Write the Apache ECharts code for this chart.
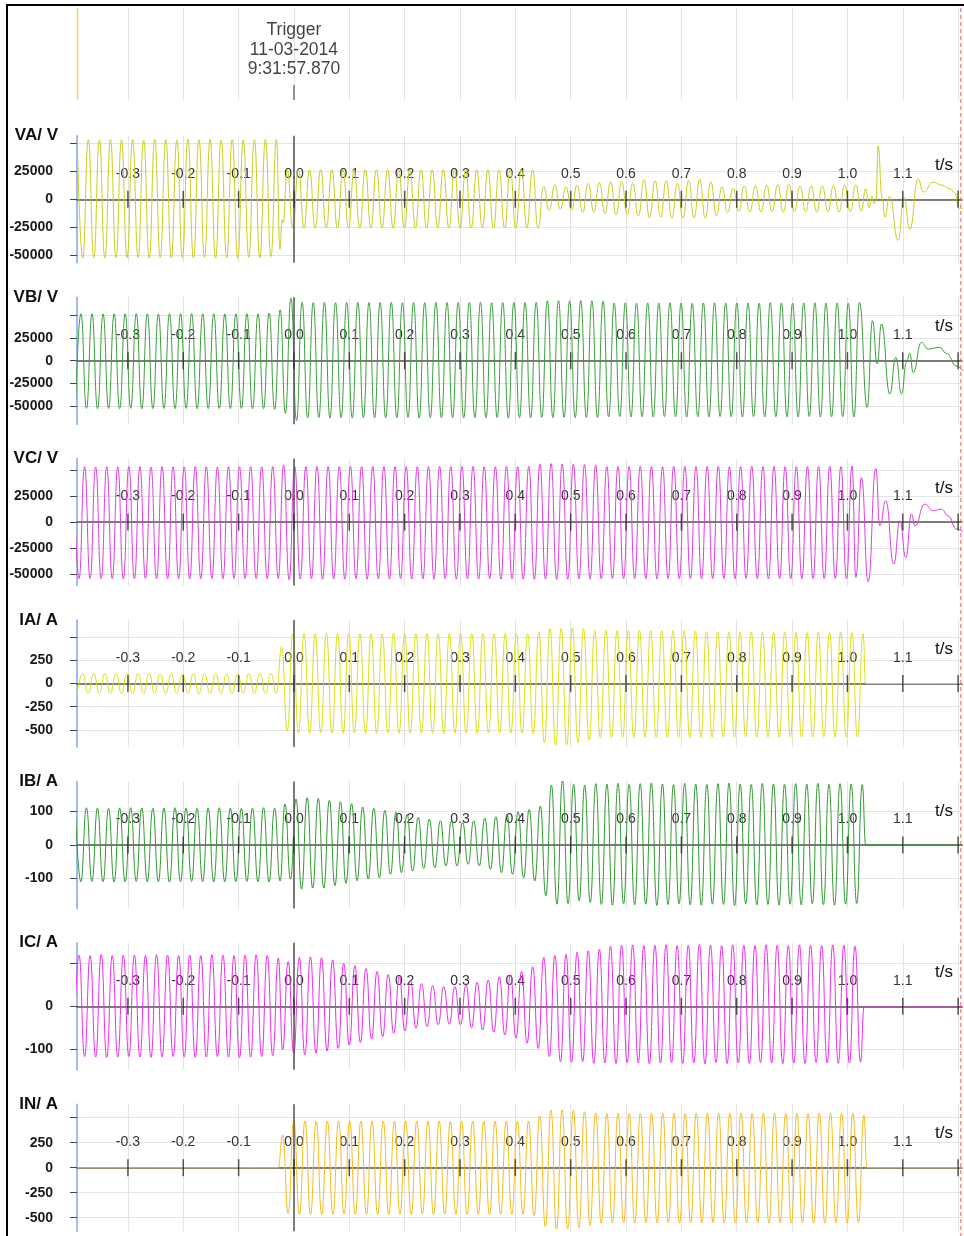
<!DOCTYPE html>
<html>
<head>
<meta charset="utf-8">
<script src="https://cdn.jsdelivr.net/npm/echarts@6/dist/echarts.min.js"></script>
<style>
html,body{margin:0;padding:0;background:#fff;}
#chart{width:964px;height:1236px;}
</style>
</head>
<body>
<div id="chart"></div>
<script>
// ---------------- time axis ----------------
const tMin = -0.392, tMax = 1.207;
const timeTicks = [-0.3,-0.2,-0.1,0.0,0.1,0.2,0.3,0.4,0.5,0.6,0.7,0.8,0.9,1.0,1.1,1.2];
const timeLabels = [-0.3,-0.2,-0.1,0.0,0.1,0.2,0.3,0.4,0.5,0.6,0.7,0.8,0.9,1.0,1.1];
const triggerTime = 0;
const triggerText = ['Trigger', '11-03-2014', '9:31:57.870'];
const cursorTimes = [-0.392, 1.205];

// ---------------- panel axes ----------------
const channelNames = ['VA/ V','VB/ V','VC/ V','IA/ A','IB/ A','IC/ A','IN/ A'];
const yLimits = [57100, 69900, 61060, 684, 189.6, 147.7, 635];
const voltTicks = [-50000,-25000,0,25000,50000];
const voltLabels = [-50000,-25000,0,25000];
const ampTicks500 = [-500,-250,0,250,500];
const ampLabels500 = [-500,-250,0,250];
const ampTicks100 = [-100,0,100];
const ibLabels = [-100,0,100];
const icLabels = [-100,0];

// ---------------- recorded extremes ----------------
// Each wave: pre-fault extremes every half cycle, explicit points, post-fault
// extremes every half cycle, and explicit end points.
const preStep = 0.01;

// VA (kV)
const vaPreStart = -0.3916;
const vaPreKV = [53.6,-52.8,53.8,-52.5,53.4,-52.9,53.9,-52.4,53.5,-52.8,
53.7,-52.6,53.3,-52.9,53.8,-52.3,53.6,-52.8,53.4,-52.6,
53.9,-52.7,53.5,-52.4,53.7,-52.9,53.3,-52.6,53.8,-52.8,
53.5,-52.3,53.6,-52.7,53.8,-51.5,53.9];
const vaMidKV = [[-0.0253,-45.0],[-0.0215,-18.5],[-0.0198,-21.0]];
const vaPostStart = -0.0121, vaPostStep = 0.01007;
const vaPostKV = [
26.5,-25.8,26.7,-25.9,26.6,-25.8,26.7,-25.7,26.6,-25.9,
26.5,-25.8,26.7,-25.9,26.6,-25.8,26.6,-25.7,26.7,-25.9,
26.5,-25.8,26.7,-25.8,26.6,-25.9,26.6,-25.8,26.7,-25.7,
26.5,-25.9,26.6,-25.8,26.7,-25.8,26.6,-25.9,26.5,-25.8,
26.7,-25.9,26.6,-25.8,26.6,-26.0,
11.3,-10.2,12.8,-9.0,11.3,-9.6,12.8,-12.0,14.3,-11.4,
14.9,-13.0,15.8,-14.0,15.8,-14.0,14.3,-15.0,17.3,-16.5,
16.7,-16.0,16.7,-17.0,14.3,-17.0,16.7,-16.5,17.9,-17.0,
15.8,-15.0,11.3,-12.0,9.8,-11.0,11.9,-11.5,12.3,-11.5,
12.8,-11.0,13.0,-11.5,13.4,-11.0,12.0,-11.0,11.9,-11.5,
11.9,-11.0,12.2,-11.5,12.8,-11.0];
const vaTailKV = [[1.0150,12.8],[1.0250,-10.5],[1.0330,9.5],[1.0390,-7.5],[1.0440,2.5],
[1.0480,-4.0],[1.0515,-1.0],[1.0555,48.0],[1.0625,2.0],[1.0676,-16.0],[1.0760,2.7],
[1.0917,-37.0],[1.1020,2.0],[1.1127,-27.0],[1.1278,18.4],[1.1368,6.5],[1.1549,15.4],
[1.1699,12.8],[1.1850,9.5],[1.1940,6.0],[1.2012,-8.0],[1.2090,-9.0]];

// VB (kV)
const vbPreStart = -0.3949;
const vbPreKV = [-52.8,51.7,-52.5,51.9,-52.9,51.5,-52.6,51.8,-52.8,51.6,
-52.4,51.9,-52.9,51.7,-52.7,51.5,-52.6,51.8,-52.8,51.7,
-52.5,51.9,-52.9,51.6,-52.7,51.8,-52.6,51.5,-52.8,51.9,
-52.5,51.7,-52.9,51.6,-52.7,52.5,-53.5,56.0];
const vbPostStart = -0.0155, vbPostStep = 0.01007;
const vbPostKV = [-58.0,69.0,-66.0,64.5,
-63.0,64.0,-62.6,64.3,-63.2,63.8,-62.8,64.1,-63.0,64.2,
-62.7,63.9,-63.1,64.0,-62.9,64.3,-63.0,63.8,-62.6,64.1,
-63.2,64.0,-62.8,64.2,-63.0,63.9,-62.7,64.1,-63.1,64.0,
-62.9,64.3,-63.0,63.8,-62.6,64.0,-63.2,64.2,-62.8,63.9,
-63.0,64.1,
-62.5,66.0,-62.8,66.3,-62.4,65.8,-62.7,66.1,-62.5,65.9,-62.6,65.6,
-61.8,63.5,-61.5,63.7,-62.0,63.3,-61.7,63.6,-61.9,63.4,
-61.6,63.8,-61.8,63.5,-62.1,63.3,-61.7,63.6,-61.9,63.7,
-61.5,63.4,-61.8,63.6,-62.0,63.5,-61.6,63.3,-61.9,63.8,
-61.7,63.5,-61.8,63.4,-62.0,63.6,-61.6,63.7,-61.9,63.5,
-61.8,63.6,-61.7,63.4,-62.0,64.2];
const vbTailKV = [[1.0357,-51.4],[1.0453,44.0],[1.0537,-3.7],[1.0615,40.4],[1.0766,-36.7],
[1.0874,3.7],[1.0977,-36.7],[1.1067,-1.8],[1.1127,8.1],[1.1187,-12.9],[1.1337,20.2],
[1.1457,12.8],[1.1668,14.7],[1.1788,8.1],[1.1969,-5.9],[1.2089,-11.4]];

// VC (kV)
const vcPreStart = -0.3983;
const vcPreKV = [53.2,-54.5,53.4,-54.3,53.0,-54.7,53.3,-54.4,53.1,-54.6,
53.4,-54.5,53.2,-54.3,53.0,-54.6,53.3,-54.5,53.2,-54.4,
53.1,-54.7,53.4,-54.5,53.2,-54.3,53.0,-54.6,53.3,-54.4,
53.2,-54.5,53.4,-54.6,53.1,-54.4,53.3,-54.5];
const vcPostStart = -0.0188, vcPostStep = 0.01007;
const vcPostKV = [55.0,
-55.5,53.6,-54.8,53.4,-54.6,53.7,-54.9,53.5,-54.7,53.3,
-54.8,53.6,-54.5,53.4,-54.9,53.7,-54.7,53.5,-54.8,53.3,
-54.6,53.6,-54.9,53.4,-54.7,53.5,-54.8,53.7,-54.6,53.4,
-54.9,53.5,-54.7,53.6,-54.8,53.3,-54.5,53.5,-54.9,53.6,
-54.7,53.4,-54.8,53.7,
-55.0,55.8,-54.8,56.2,-55.1,56.0,-54.9,55.7,-54.7,55.5,-54.8,54.8,
-54.5,53.5,-54.3,53.7,-54.6,53.4,-54.4,53.6,-54.5,53.5,
-54.7,53.3,-54.4,53.6,-54.5,53.7,-54.3,53.4,-54.6,53.5,
-54.5,53.6,-54.4,53.3,-54.6,53.5,-54.3,53.7,-54.5,53.4,
-54.7,53.6,-54.4,53.5,-54.5,53.3,-54.6,53.6,-54.4,53.5,
-54.5,53.7,-54.3,53.4,-54.5,54.1];
const vcTailKV = [[1.0152,-53.2],[1.0254,42.9],[1.0375,-57.4],[1.0513,51.6],[1.0585,-3.6],
[1.0693,20.5],[1.0838,-40.4],[1.0947,1.3],[1.1055,-34.0],[1.1157,7.7],[1.1218,-3.6],
[1.1398,17.3],[1.1549,10.9],[1.1700,12.5],[1.1820,6.0],[1.1971,-6.8],[1.2092,-9.4]];

// IA (A)
const iaPreStart = -0.3917;
const iaPre = [-108,108,-107,109,-108,108,-109,107,-108,108,
-107,109,-108,108,-108,107,-109,108,-108,108,
-107,109,-108,108,-109,108,-108,107,-108,109,
-107,108,-108,108,-109,108,-108];
const iaPostStart = -0.0222, iaPostStep = 0.0101;
const iaPost = [395,-514,
539,-533,541,-536,538,-534,540,-535,539,-537,
541,-534,538,-535,540,-536,539,-533,541,-535,
538,-536,540,-534,539,-535,541,-537,538,-534,
540,-535,539,-536,541,-533,538,-535,540,-536,
539,-534,541,-540,
560,-640,590,-665,595,-660,600,-640,590,-610,
575,-585,570,-580,572,-578,568,-582,574,-580,
570,-579,566,-581,572,-578,569,-583,565,-580,
560,-578,558,-576,555,-578,552,-575,556,-577,
553,-576,550,-578,554,-575,551,-577,549,-576,
552,-575,550,-578,551,-577,548,-576,539];
const iaTail = [[1.0330,0],[1.2100,0]];

// IB (A)
const ibPreStart = -0.3950;
const ibPre = [110,-110,111,-109,110,-110,109,-111,110,-110,
111,-109,110,-110,109,-110,110,-111,111,-110,
110,-109,109,-110,110,-111,111,-110,110,-110,
109,-109,110,-110,111,-111,110,-108];
const ibPostStart = -0.0163, ibPostStep = 0.01003;
const ibPost = [122,-102,137,-132,141,-129,139,-129,133,-122,
129,-115,123,-107,113,-102,109,-98,103,-88,
98,-83,91,-78,82,-70,77,-68,72,-63,
72,-63,67,-58,72,-63,80,-73,84,-83,
91,-88,99,-98,106,-108,116,-152,179,-177,
193,-175,181,-167,179,-172,183,
-178,182,-180,184,-176,181,-179,183,-177,185,
-181,182,-178,180,-176,184,-179,182,-180,181,
-177,183,-178,185,-181,182,-176,180,-179,184,
-178,182,-180,181,-177,183,-179,182,-176,184,
-178,181,-180,183,-177,182,-175,180];
const ibTail = [[1.0330,0],[1.2100,0]];

// IC (A)
const icPreStart = -0.3983;
const icPre = [-118,119,-117,118,-118,120,-119,118,-118,119,
-117,119,-118,118,-119,120,-118,119,-117,118,
-118,119,-119,118,-118,120,-117,119,-118,118,
-119,119,-118,120,-117,118,-115,112];
const icPostStart = -0.0205, icPostStep = 0.01004;
const icPost = [-101,104,-109,114,-113,115,-109,113,-104,108,
-98,100,-90,95,-84,88,-76,81,-71,74,
-63,69,-57,61,-51,53,-47,48,-43,46,
-42,46,-43,50,-50,56,-55,61,-60,69,
-67,74,-74,81,-86,92,-98,114,-117,118,
-129,121,-130,126,-129,129,-133,133,
-132,140,-133,142,-131,143,-132,141,-134,142,
-132,143,-131,141,-133,142,-132,144,-134,142,
-131,141,-133,143,-132,142,-133,141,-131,143,
-132,142,-134,141,-132,143,-133,142,-131,141,
-132,143,-133,142,-132,140,-130];
const icTail = [[1.0300,-2],[1.2100,-2]];

// IN (A)
const inLead = [[-0.3920,0],[-0.0285,0]];
const inPostStart = -0.0205, inPostStep = 0.0101;
const inPost = [327,-456,
467,-466,468,-465,466,-467,467,-466,468,-464,
466,-467,467,-465,468,-466,466,-467,467,-465,
468,-466,466,-464,467,-467,468,-465,466,-466,
467,-467,468,-465,466,-466,467,-464,468,-467,
466,-465,467,-480,
520,-590,577,-613,580,-610,575,-600,560,-580,
548,-555,545,-553,547,-551,543,-554,546,-552,
544,-553,548,-550,545,-555,543,-552,547,-553,
545,-551,546,-554,544,-552,548,-553,543,-550,
545,-554,547,-552,544,-553,546,-551,543,-554,
547,-553,546,-551,545,-552,544,-550,527];
const inTail = [[1.0350,0],[1.2100,0]];

// ---------------- assemble ----------------
function buildWave(preStart, pre, mid, postStart, postStep, post, tail, unit) {
  const pts = [];
  pre.forEach((v, i) => pts.push([preStart + i * preStep, v * unit]));
  mid.forEach(p => pts.push([p[0], p[1] * unit]));
  post.forEach((v, i) => pts.push([postStart + i * postStep, v * unit]));
  tail.forEach(p => pts.push([p[0], p[1] * unit]));
  return pts;
}

const waves = [
  buildWave(vaPreStart, vaPreKV, vaMidKV, vaPostStart, vaPostStep, vaPostKV, vaTailKV, 1000),
  buildWave(vbPreStart, vbPreKV, [], vbPostStart, vbPostStep, vbPostKV, vbTailKV, 1000),
  buildWave(vcPreStart, vcPreKV, [], vcPostStart, vcPostStep, vcPostKV, vcTailKV, 1000),
  buildWave(iaPreStart, iaPre, [], iaPostStart, iaPostStep, iaPost, iaTail, 1),
  buildWave(ibPreStart, ibPre, [], ibPostStart, ibPostStep, ibPost, ibTail, 1),
  buildWave(icPreStart, icPre, [], icPostStart, icPostStep, icPost, icTail, 1),
  buildWave(0, [], inLead, inPostStart, inPostStep, inPost, inTail, 1)
];
const waveColors = ['#cccc1c','#3a9f3a','#e03ce0','#dede14','#2f9a2f','#ee2aee','#f6bb1c'];
const yTickSets = [voltTicks, voltTicks, voltTicks, ampTicks500, ampTicks100, ampTicks100, ampTicks500];
const yLabelSets = [voltLabels, voltLabels, voltLabels, ampLabels500, ibLabels, icLabels, ampLabels500];

// ---------------- layout ----------------
const FONT = '"Liberation Sans", Arial, sans-serif';
const plotLeft = 77, plotRight = 2;
const panelTop0 = 135.8, panelStep = 161.4, panelH = 127;
const headerTop = 8, headerH = 92;
const GRID_COLOR = '#e3e3e3';

const grids = [], xAxes = [], yAxes = [], series = [];

waves.forEach((data, i) => {
  const top = panelTop0 + i * panelStep;
  grids.push({ left: plotLeft, right: plotRight, top: top, height: panelH });
  xAxes.push({
    gridIndex: i, type: 'value', min: tMin, max: tMax, position: 'top',
    axisLine: { show: true, onZero: true, lineStyle: { color: '#555', width: 1.5 } },
    axisTick: { show: false, customValues: timeTicks },
    axisLabel: {
      inside: true, margin: 31, customValues: timeLabels,
      formatter: v => v.toFixed(1), color: '#333', fontSize: 14, fontFamily: FONT
    },
    splitLine: { show: true, lineStyle: { color: GRID_COLOR, width: 1 } }
  });
  yAxes.push({
    gridIndex: i, type: 'value', min: -yLimits[i], max: yLimits[i],
    axisLine: { show: true, onZero: false, lineStyle: { color: '#7fa6f2', width: 1.5 } },
    axisTick: { show: true, length: 7, customValues: yTickSets[i], lineStyle: { color: '#444', width: 1 } },
    axisLabel: {
      customValues: yLabelSets[i], margin: 24, formatter: v => String(v),
      color: '#1a1a1a', fontSize: 14, fontWeight: 'bold', fontFamily: FONT
    },
    splitLine: { show: true, lineStyle: { color: GRID_COLOR, width: 1 } }
  });
  series.push({
    type: 'line', xAxisIndex: i, yAxisIndex: i, data: data,
    showSymbol: false, symbol: 'none', smooth: 0.5, smoothMonotone: 'x',
    lineStyle: { color: waveColors[i], width: 1 }, silent: true, z: 3,
    markLine: {
      silent: true, symbol: 'none', animation: false,
      label: { show: false },
      lineStyle: { color: '#555', width: 1.5, type: 'solid' },
      data: [{ xAxis: triggerTime }]
    }
  });
  series.push({
    type: 'scatter', xAxisIndex: i, yAxisIndex: i,
    data: timeTicks.map(t => [t, 0]),
    symbol: 'rect', symbolSize: [1.5, 17],
    itemStyle: { color: '#2a2a2a' }, silent: true, z: 5
  });
});

// header strip with the trigger stamp
const hi = waves.length;
grids.push({ left: plotLeft, right: plotRight, top: headerTop, height: headerH });
xAxes.push({
  gridIndex: hi, type: 'value', min: tMin, max: tMax,
  axisLine: { show: false }, axisLabel: { show: false },
  axisTick: { show: false, customValues: timeTicks },
  splitLine: { show: true, lineStyle: { color: GRID_COLOR, width: 1 } }
});
yAxes.push({ gridIndex: hi, type: 'value', min: 0, max: headerH, show: false });
series.push({
  type: 'scatter', xAxisIndex: hi, yAxisIndex: hi,
  data: [[triggerTime, 7.5]],
  symbol: 'rect', symbolSize: [1.5, 15], itemStyle: { color: '#555' }, silent: true,
  label: {
    show: true, position: 'top', distance: 6,
    formatter: triggerText.join('\n'),
    fontSize: 17.5, lineHeight: 19.5, color: '#111', fontFamily: FONT
  }
});

const chart = echarts.init(document.getElementById('chart'), null, { renderer: 'canvas' });
chart.setOption({
  animation: false,
  backgroundColor: '#fff',
  grid: grids, xAxis: xAxes, yAxis: yAxes, series: series
});

// panel names, time unit labels, cursors and frame
const graphics = [];
channelNames.forEach((name, i) => {
  const top = panelTop0 + i * panelStep;
  const zeroY = top + panelH / 2;
  graphics.push({
    type: 'text', x: 58, y: top, silent: true,
    style: { text: name, font: 'bold 17px ' + FONT, fill: '#111', align: 'right', verticalAlign: 'middle' }
  });
  graphics.push({
    type: 'text', x: 944, y: zeroY - 34, silent: true,
    style: { text: 't/s', font: '17px ' + FONT, fill: '#111', align: 'center', verticalAlign: 'middle' }
  });
});
const cStart = chart.convertToPixel({ xAxisIndex: 0 }, cursorTimes[0]);
const cEnd = chart.convertToPixel({ xAxisIndex: 0 }, cursorTimes[1]);
graphics.push({
  type: 'line', silent: true, z: 10,
  shape: { x1: cStart + 0.5, y1: headerTop, x2: cStart + 0.5, y2: headerTop + headerH },
  style: { stroke: '#f7cf6e', lineWidth: 1.5 }
});
graphics.push({
  type: 'line', silent: true, z: 10,
  shape: { x1: cEnd, y1: headerTop, x2: cEnd, y2: 1236 },
  style: { stroke: '#ec5a48', lineWidth: 1, lineDash: [4, 3] }
});
graphics.push({
  type: 'rect', silent: true, z: 10,
  shape: { x: 7, y: 5, width: 975, height: 1260 },
  style: { fill: null, stroke: '#000', lineWidth: 2 }
});
chart.setOption({ graphic: graphics });
</script>
</body>
</html>
